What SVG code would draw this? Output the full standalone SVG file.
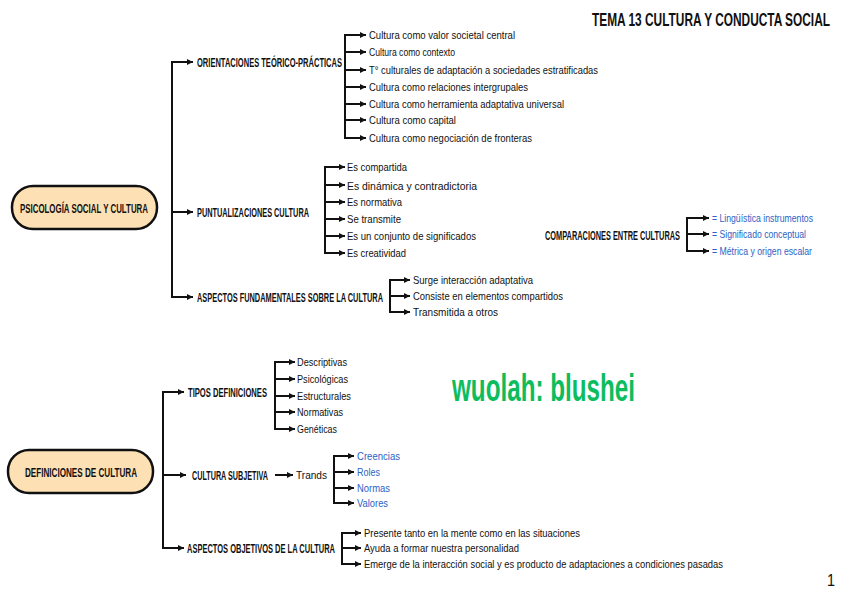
<svg xmlns="http://www.w3.org/2000/svg" width="848" height="600" viewBox="0 0 848 600">
<defs>
<marker id="ah" markerUnits="userSpaceOnUse" markerWidth="6" markerHeight="6" refX="6" refY="3" orient="auto"><path d="M0,0 L6,3 L0,6 z" fill="#111"/></marker>
<style>
.ln{stroke:#111;stroke-width:2;fill:none}
.ar{stroke:#111;stroke-width:2;fill:none;marker-end:url(#ah)}
.pill{fill:#fde0b4;stroke:#111;stroke-width:2.5}
text{font-family:"Liberation Sans Narrow","Liberation Sans",Arial,sans-serif;fill:#111}
.h{font-size:13.5px;font-weight:bold}
.i{font-size:11px}
.b{font-size:11px;fill:#2b63c6}
.t{font-size:18px;font-weight:bold}
</style>
</defs>
<rect width="848" height="600" fill="#fff"/>
<text class="t" x="592" y="26" textLength="238" lengthAdjust="spacingAndGlyphs">TEMA 13 CULTURA Y CONDUCTA SOCIAL</text>
<text x="452" y="401" font-size="38" style="fill:#0dbd5d;font-weight:bold" textLength="183" lengthAdjust="spacingAndGlyphs">wuolah: blushei</text>
<text x="827" y="586" font-size="16" textLength="8" lengthAdjust="spacingAndGlyphs">1</text>

<g id="connectors">
<path class="ln" d="M172,62 V297"/>
<line class="ar" x1="171" y1="62" x2="193" y2="62"/>
<line class="ar" x1="172" y1="212" x2="193" y2="212"/>
<line class="ar" x1="171" y1="297" x2="193" y2="297"/>
<path class="ln" d="M345,35 V138"/>
<line class="ar" x1="344" y1="35" x2="366" y2="35"/>
<line class="ar" x1="345" y1="52" x2="366" y2="52"/>
<line class="ar" x1="345" y1="70" x2="366" y2="70"/>
<line class="ar" x1="345" y1="87" x2="366" y2="87"/>
<line class="ar" x1="345" y1="104" x2="366" y2="104"/>
<line class="ar" x1="345" y1="120" x2="366" y2="120"/>
<line class="ar" x1="344" y1="138" x2="366" y2="138"/>
<path class="ln" d="M325,167 V253"/>
<line class="ar" x1="324" y1="167" x2="345" y2="167"/>
<line class="ar" x1="325" y1="185" x2="345" y2="185"/>
<line class="ar" x1="325" y1="202" x2="345" y2="202"/>
<line class="ar" x1="325" y1="219" x2="345" y2="219"/>
<line class="ar" x1="325" y1="236" x2="345" y2="236"/>
<line class="ar" x1="324" y1="253" x2="345" y2="253"/>
<path class="ln" d="M390,280 V312"/>
<line class="ar" x1="389" y1="280" x2="410" y2="280"/>
<line class="ar" x1="390" y1="296" x2="410" y2="296"/>
<line class="ar" x1="389" y1="312" x2="410" y2="312"/>
<path class="ln" d="M687,218 V251"/>
<line class="ar" x1="686" y1="218" x2="709" y2="218"/>
<line class="ar" x1="687" y1="234" x2="709" y2="234"/>
<line class="ar" x1="686" y1="251" x2="709" y2="251"/>
<path class="ln" d="M163,392 V548"/>
<line class="ar" x1="162" y1="392" x2="184" y2="392"/>
<line class="ar" x1="163" y1="475" x2="186" y2="475"/>
<line class="ar" x1="162" y1="548" x2="184" y2="548"/>
<path class="ln" d="M275,362 V429"/>
<line class="ar" x1="274" y1="362" x2="295" y2="362"/>
<line class="ar" x1="275" y1="379" x2="295" y2="379"/>
<line class="ar" x1="275" y1="396" x2="295" y2="396"/>
<line class="ar" x1="275" y1="412" x2="295" y2="412"/>
<line class="ar" x1="274" y1="429" x2="295" y2="429"/>
<line class="ar" x1="275" y1="475" x2="293" y2="475"/>
<path class="ln" d="M334,456 V503"/>
<line class="ar" x1="333" y1="456" x2="354" y2="456"/>
<line class="ar" x1="334" y1="472" x2="354" y2="472"/>
<line class="ar" x1="334" y1="488" x2="354" y2="488"/>
<line class="ar" x1="333" y1="503" x2="354" y2="503"/>
<path class="ln" d="M342,533 V564"/>
<line class="ar" x1="341" y1="533" x2="361" y2="533"/>
<line class="ar" x1="342" y1="548" x2="361" y2="548"/>
<line class="ar" x1="341" y1="564" x2="361" y2="564"/>
</g>

<g id="psicologia">
<rect class="pill" x="12" y="186" width="145" height="43" rx="21"/>
<text class="h" x="20" y="212.5" font-size="14" textLength="128" lengthAdjust="spacingAndGlyphs">PSICOLOGÍA SOCIAL Y CULTURA</text>
</g>
<g id="orientaciones"><text class="h" x="197" y="67" textLength="145" lengthAdjust="spacingAndGlyphs">ORIENTACIONES TEÓRICO-PRÁCTICAS</text></g>
<g id="or1"><text class="i" x="369" y="39" textLength="146" lengthAdjust="spacingAndGlyphs">Cultura como valor societal central</text></g>
<g id="or2"><text class="i" x="369" y="56" textLength="86" lengthAdjust="spacingAndGlyphs">Cultura como contexto</text></g>
<g id="or3"><text class="i" x="369" y="74" textLength="229" lengthAdjust="spacingAndGlyphs">T° culturales de adaptación a sociedades estratificadas</text></g>
<g id="or4"><text class="i" x="369" y="91" textLength="159" lengthAdjust="spacingAndGlyphs">Cultura como relaciones intergrupales</text></g>
<g id="or5"><text class="i" x="369" y="108" textLength="195" lengthAdjust="spacingAndGlyphs">Cultura como herramienta adaptativa universal</text></g>
<g id="or6"><text class="i" x="369" y="124" textLength="87" lengthAdjust="spacingAndGlyphs">Cultura como capital</text></g>
<g id="or7"><text class="i" x="369" y="142" textLength="163" lengthAdjust="spacingAndGlyphs">Cultura como negociación de fronteras</text></g>

<g id="puntualizaciones"><text class="h" x="197" y="217" textLength="112" lengthAdjust="spacingAndGlyphs">PUNTUALIZACIONES CULTURA</text></g>
<g id="pu1"><text class="i" x="347" y="171" textLength="60" lengthAdjust="spacingAndGlyphs">Es compartida</text></g>
<g id="pu2"><text class="i" x="347" y="189.5" font-size="12.5" textLength="130" lengthAdjust="spacingAndGlyphs">Es dinámica y contradictoria</text></g>
<g id="pu3"><text class="i" x="347" y="206" textLength="55" lengthAdjust="spacingAndGlyphs">Es normativa</text></g>
<g id="pu4"><text class="i" x="347" y="223" textLength="54" lengthAdjust="spacingAndGlyphs">Se transmite</text></g>
<g id="pu5"><text class="i" x="347" y="240" textLength="129" lengthAdjust="spacingAndGlyphs">Es un conjunto de significados</text></g>
<g id="pu6"><text class="i" x="347" y="257" textLength="59" lengthAdjust="spacingAndGlyphs">Es creatividad</text></g>

<g id="fundamentales"><text class="h" x="197" y="302" textLength="186" lengthAdjust="spacingAndGlyphs">ASPECTOS FUNDAMENTALES SOBRE LA CULTURA</text></g>
<g id="fu1"><text class="i" x="413" y="284" textLength="120" lengthAdjust="spacingAndGlyphs">Surge interacción adaptativa</text></g>
<g id="fu2"><text class="i" x="413" y="300" textLength="150" lengthAdjust="spacingAndGlyphs">Consiste en elementos compartidos</text></g>
<g id="fu3"><text class="i" x="413" y="316" textLength="85" lengthAdjust="spacingAndGlyphs">Transmitida a otros</text></g>

<g id="comparaciones"><text class="h" x="545" y="240" textLength="135" lengthAdjust="spacingAndGlyphs">COMPARACIONES ENTRE CULTURAS</text></g>
<g id="co1"><text class="b" x="712" y="222" textLength="101" lengthAdjust="spacingAndGlyphs">= Lingüística instrumentos</text></g>
<g id="co2"><text class="b" x="712" y="238" textLength="94" lengthAdjust="spacingAndGlyphs">= Significado conceptual</text></g>
<g id="co3"><text class="b" x="712" y="255" textLength="100" lengthAdjust="spacingAndGlyphs">= Métrica y origen escalar</text></g>

<g id="definiciones">
<rect class="pill" x="8" y="450" width="145" height="43" rx="21"/>
<text class="h" x="25" y="476.5" font-size="14" textLength="112" lengthAdjust="spacingAndGlyphs">DEFINICIONES DE CULTURA</text>
</g>
<g id="tipos"><text class="h" x="188" y="397" textLength="79" lengthAdjust="spacingAndGlyphs">TIPOS DEFINICIONES</text></g>
<g id="ti1"><text class="i" x="297" y="366" textLength="50" lengthAdjust="spacingAndGlyphs">Descriptivas</text></g>
<g id="ti2"><text class="i" x="297" y="383" textLength="51" lengthAdjust="spacingAndGlyphs">Psicológicas</text></g>
<g id="ti3"><text class="i" x="297" y="400" textLength="54" lengthAdjust="spacingAndGlyphs">Estructurales</text></g>
<g id="ti4"><text class="i" x="297" y="416" textLength="46" lengthAdjust="spacingAndGlyphs">Normativas</text></g>
<g id="ti5"><text class="i" x="297" y="433" textLength="40" lengthAdjust="spacingAndGlyphs">Genéticas</text></g>

<g id="subjetiva"><text class="h" x="192" y="480" textLength="76" lengthAdjust="spacingAndGlyphs">CULTURA SUBJETIVA</text></g>
<g id="trands"><text class="i" x="296" y="479" font-size="11.5" textLength="31" lengthAdjust="spacingAndGlyphs">Trands</text></g>
<g id="su1"><text class="b" x="357" y="460" textLength="43" lengthAdjust="spacingAndGlyphs">Creencias</text></g>
<g id="su2"><text class="b" x="357" y="476" textLength="23" lengthAdjust="spacingAndGlyphs">Roles</text></g>
<g id="su3"><text class="b" x="357" y="492" textLength="33" lengthAdjust="spacingAndGlyphs">Normas</text></g>
<g id="su4"><text class="b" x="357" y="507" textLength="31" lengthAdjust="spacingAndGlyphs">Valores</text></g>

<g id="objetivos"><text class="h" x="187" y="553" textLength="148" lengthAdjust="spacingAndGlyphs">ASPECTOS OBJETIVOS DE LA CULTURA</text></g>
<g id="ob1"><text class="i" x="364" y="537" textLength="216" lengthAdjust="spacingAndGlyphs">Presente tanto en la mente como en las situaciones</text></g>
<g id="ob2"><text class="i" x="364" y="552" textLength="155" lengthAdjust="spacingAndGlyphs">Ayuda a formar nuestra personalidad</text></g>
<g id="ob3"><text class="i" x="364" y="568" textLength="359" lengthAdjust="spacingAndGlyphs">Emerge de la interacción social y es producto de adaptaciones a condiciones pasadas</text></g>
</svg>
